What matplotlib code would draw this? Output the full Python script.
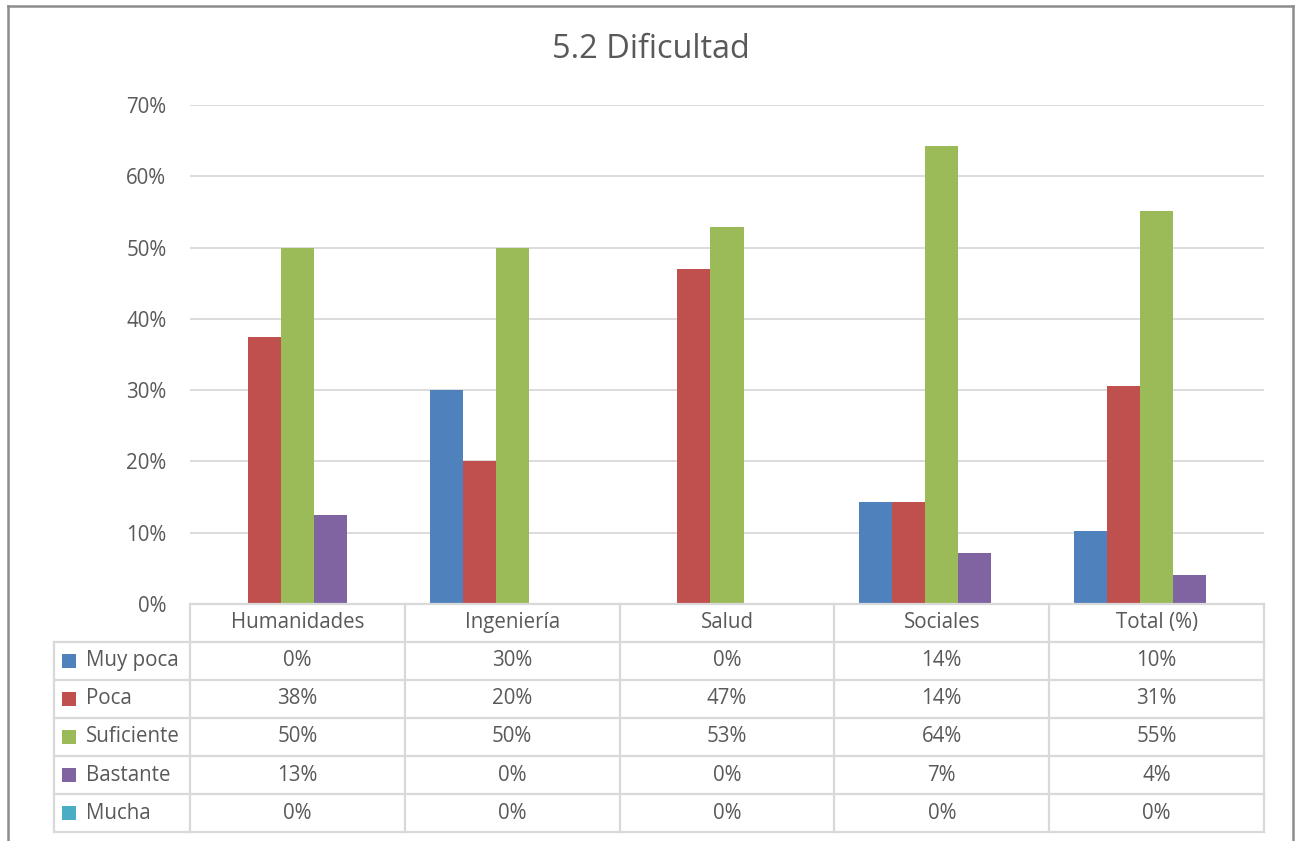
import matplotlib
matplotlib.use("Agg")
import matplotlib.pyplot as plt
import matplotlib.transforms as mtransforms
from matplotlib.patches import Rectangle
from matplotlib.lines import Line2D

# ---- data ----
categories = ["Humanidades", "Ingeniería", "Salud", "Sociales", "Total (%)"]
series_names = ["Muy poca", "Poca", "Suficiente", "Bastante", "Mucha"]
muy_poca = [0.0, 0.30, 0.0, 0.1429, 0.1020]
poca = [0.375, 0.20, 0.4706, 0.1429, 0.3061]
suficiente = [0.50, 0.50, 0.5294, 0.6429, 0.5510]
bastante = [0.125, 0.0, 0.0, 0.0714, 0.0408]
mucha = [0.0, 0.0, 0.0, 0.0, 0.0]
title = "5.2 Dificultad"

series_values = [muy_poca, poca, suficiente, bastante, mucha]
colors = ["#4F81BD", "#C0504D", "#9BBB59", "#8064A2", "#4BACC6"]
txt_color = "#595959"
grid_color = "#D9D9D9"

plt.rcParams["font.family"] = ["Open Sans", "DejaVu Sans"]
FS = 14.8

W, H = 1299, 841
fig = plt.figure(figsize=(W / 100, H / 100), dpi=100)
pxT = mtransforms.Affine2D().scale(1 / W, -1 / H).translate(0, 1) + fig.transFigure

# plot area in pixels
x0, x1 = 190, 1264
y_top, y_zero = 105, 604
ax = fig.add_axes([x0 / W, 1 - y_zero / H, (x1 - x0) / W, (y_zero - y_top) / H])
ax.set_xlim(-0.5, len(categories) - 0.5)
ax.set_ylim(0, 0.7)
for s in ax.spines.values():
    s.set_visible(False)
ax.set_yticks([i / 10 for i in range(8)])
ax.set_yticklabels([f"{i * 10}%" for i in range(8)])
ax.tick_params(axis="y", length=0, pad=17, labelsize=FS, labelcolor=txt_color)
ax.set_xticks([])
ax.yaxis.grid(True, color=grid_color, linewidth=1.3)
ax.set_axisbelow(True)

bw = 0.154
xs = list(range(len(categories)))
for i, (vals, c) in enumerate(zip(series_values, colors)):
    ax.bar([x + (i - 2) * bw for x in xs], vals, width=bw, color=c,
           edgecolor="none", zorder=3)

# title
fig.text(651 / W, 1 - 50 / H, title, ha="center", va="center",
         fontsize=23.4, color=txt_color)

# ---- data table ----
bt = mtransforms.blended_transform_factory(ax.transData, pxT)
header_top, header_bot = 604, 641.7
row_h = 38.1
n_rows = len(series_names)
table_bot = header_bot + n_rows * row_h
lab_left = 54

def hline(xa, xb, y, tr):
    fig.add_artist(Line2D([xa, xb], [y, y], transform=tr, color=grid_color,
                          linewidth=1.6, clip_on=False))

def vline(x, ya, yb, tr):
    fig.add_artist(Line2D([x, x], [ya, yb], transform=tr, color=grid_color,
                          linewidth=1.6, clip_on=False))

# header row lines
hline(-0.5, len(categories) - 0.5, header_top, bt)
for k in range(len(categories) + 1):
    vline(k - 0.5, header_top, table_bot, bt)
# row lines
for r in range(n_rows + 1):
    y = header_bot + r * row_h
    hline(lab_left, x0, y, pxT)
    hline(-0.5, len(categories) - 0.5, y, bt)
vline(lab_left, header_bot, table_bot, pxT)

# header labels
for k, cat in enumerate(categories):
    fig.text(k, (header_top + header_bot) / 2, cat, transform=bt, ha="center",
             va="center", fontsize=FS, color=txt_color)

def fmt(v):
    return f"{int(v * 100 + 0.5)}%"

for r, (name, vals, c) in enumerate(zip(series_names, series_values, colors)):
    yc = header_bot + (r + 0.5) * row_h
    fig.add_artist(Rectangle((62, yc - 7), 14, 14, transform=pxT,
                             facecolor=c, edgecolor="none"))
    fig.text(86, yc, name, transform=pxT, ha="left", va="center",
             fontsize=FS, color=txt_color)
    for k, v in enumerate(vals):
        fig.text(k, yc, fmt(v), transform=bt, ha="center", va="center",
                 fontsize=FS, color=txt_color)

# outer frame
frame_c = "#8C8C8C"
fig.add_artist(Line2D([8, 8], [6, 845], transform=pxT, color=frame_c, linewidth=1.8))
fig.add_artist(Line2D([8, 1293], [6, 6], transform=pxT, color=frame_c, linewidth=1.8))
fig.add_artist(Line2D([1293, 1293], [6, 845], transform=pxT, color=frame_c, linewidth=1.8))

fig.savefig("out.png", dpi=100, facecolor="white")
